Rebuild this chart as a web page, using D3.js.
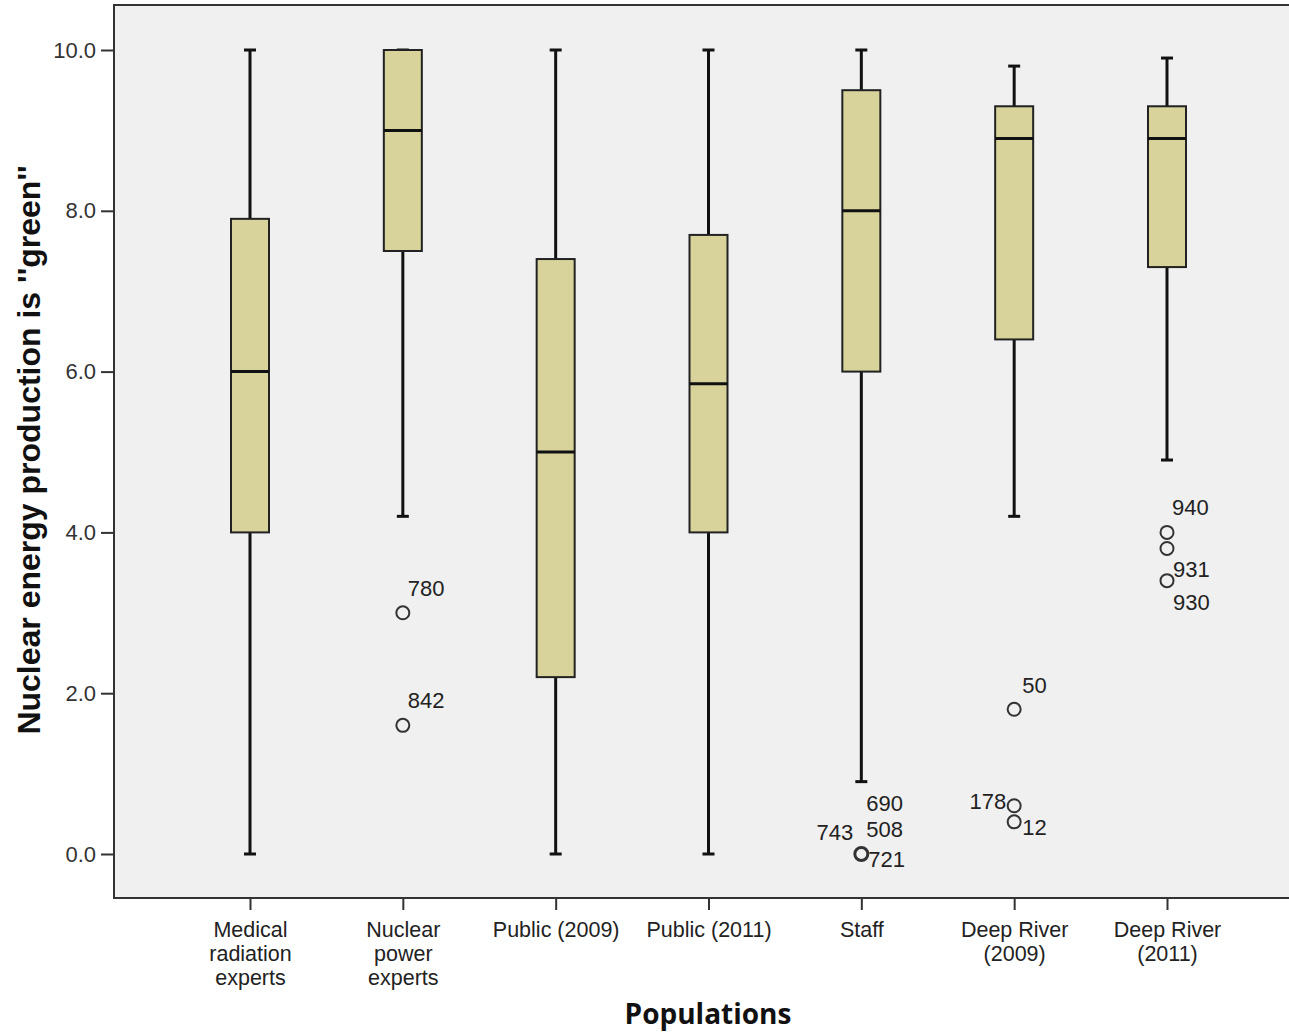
<!DOCTYPE html>
<html><head><meta charset="utf-8">
<script src="https://cdn.jsdelivr.net/npm/d3@7"></script>
<style>body{margin:0;background:#fff}svg{display:block}</style>
</head><body>
<svg id="c" width="1289" height="1034"></svg>
<script>
const categories = ["Medical\nradiation\nexperts","Nuclear\npower\nexperts","Public (2009)","Public (2011)","Staff","Deep River\n(2009)","Deep River\n(2011)"];
const whiskerLow  = [0.0, 4.2, 0.0, 0.0, 0.9, 4.2, 4.9];
const q1          = [4.0, 7.5, 2.2, 4.0, 6.0, 6.4, 7.3];
const median      = [6.0, 9.0, 5.0, 5.85, 8.0, 8.9, 8.9];
const q3          = [7.9, 10.0, 7.4, 7.7, 9.5, 9.3, 9.3];
const whiskerHigh = [10.0, 10.0, 10.0, 10.0, 10.0, 9.8, 9.9];
const outlierCat   = [1, 1, 4, 5, 5, 5, 6, 6, 6];
const outlierValue = [3.0, 1.6, 0.0, 1.8, 0.6, 0.4, 4.0, 3.8, 3.4];
const outlierLabels = [["780"],["842"],["690","508","743","721"],["50"],["178"],["12"],["940"],[],["931","930"]];
const yTicks = [0, 2, 4, 6, 8, 10];

// label placement (layout only): dx, dy, anchor per label relative to its point
const labelLayout = [
  [[5,-17,"start"]],[[5,-17,"start"]],
  [[5,-43,"start"],[5,-17,"start"],[-8,-14,"end"],[7,13,"start"]],
  [[8,-16,"start"]],[[-8,3,"end"]],[[8,13,"start"]],
  [[5,-17,"start"]],[],[[6,-4,"start"],[6,29,"start"]]
];

const FONT = "Liberation Sans, Arial, sans-serif";
const svg = d3.select("#c");
const frame = {left:114, top:5, right:1300, bottom:898};
const y = d3.scaleLinear().domain([0,10]).range([854,50]);
const x = d3.scalePoint().domain(categories).range([250,1167]);

svg.append("rect").attr("x",frame.left).attr("y",frame.top)
  .attr("width",frame.right-frame.left).attr("height",frame.bottom-frame.top)
  .attr("fill","#f0f0f0").attr("stroke","#333").attr("stroke-width",2);

// y axis
const ya = svg.append("g").attr("transform",`translate(${frame.left},0)`)
  .call(d3.axisLeft(y).tickValues(yTicks).tickFormat(d3.format(".1f")).tickSize(13).tickPadding(5));
ya.select(".domain").remove();
ya.selectAll(".tick line").attr("stroke","#333").attr("stroke-width",2);
ya.selectAll(".tick text").attr("font-family",FONT).attr("font-size",22).attr("fill","#333");

// x axis
const xa = svg.append("g").attr("transform",`translate(0,${frame.bottom})`)
  .call(d3.axisBottom(x).tickSize(12).tickFormat(""));
xa.select(".domain").remove();
xa.selectAll(".tick line").attr("stroke","#333").attr("stroke-width",2);
xa.selectAll(".tick").each(function(d){
  const t = d3.select(this).append("text").attr("text-anchor","middle")
    .attr("font-family",FONT).attr("font-size",21.5).attr("fill","#222");
  d.split("\n").forEach((line,i)=>t.append("tspan").attr("x",0).attr("y",39+i*24).text(line));
});

const bw = 38, cap = 12;
const g = svg.append("g");
categories.forEach((c,i)=>{
  const cx = x(c);
  g.append("line").attr("x1",cx).attr("x2",cx).attr("y1",y(whiskerLow[i])).attr("y2",y(q1[i])).attr("stroke","#111").attr("stroke-width",3);
  g.append("line").attr("x1",cx).attr("x2",cx).attr("y1",y(q3[i])).attr("y2",y(whiskerHigh[i])).attr("stroke","#111").attr("stroke-width",3);
  g.append("line").attr("x1",cx-cap/2).attr("x2",cx+cap/2).attr("y1",y(whiskerLow[i])).attr("y2",y(whiskerLow[i])).attr("stroke","#111").attr("stroke-width",3);
  g.append("line").attr("x1",cx-cap/2).attr("x2",cx+cap/2).attr("y1",y(whiskerHigh[i])).attr("y2",y(whiskerHigh[i])).attr("stroke","#111").attr("stroke-width",3);
  g.append("rect").attr("x",cx-bw/2).attr("width",bw).attr("y",y(q3[i])).attr("height",y(q1[i])-y(q3[i]))
    .attr("fill","#d7d39b").attr("stroke","#222").attr("stroke-width",2);
  g.append("line").attr("x1",cx-bw/2).attr("x2",cx+bw/2).attr("y1",y(median[i])).attr("y2",y(median[i])).attr("stroke","#111").attr("stroke-width",3);
});

outlierValue.forEach((v,k)=>{
  const cx = x(categories[outlierCat[k]]), cy = y(v);
  const bold = outlierLabels[k].length>1 && outlierCat[k]===4;
  g.append("circle").attr("cx",cx).attr("cy",cy).attr("r",6.5).attr("fill","none")
    .attr("stroke","#333").attr("stroke-width",bold?3:2);
  outlierLabels[k].forEach((lab,j)=>{
    const [dx,dy,anc] = labelLayout[k][j];
    g.append("text").attr("x",cx+dx).attr("y",cy+dy).attr("text-anchor",anc)
      .attr("font-family",FONT).attr("font-size",22).attr("fill","#222").text(lab);
  });
});

svg.append("text").attr("transform","translate(40,450) rotate(-90)").attr("text-anchor","middle")
  .attr("font-family",FONT).attr("font-weight","bold").attr("font-size",32).attr("fill","#111")
  .text("Nuclear energy production is ''green''");
svg.append("text").attr("x",708).attr("y",1024).attr("text-anchor","middle")
  .attr("font-family","Open Sans, Lato, sans-serif").attr("font-weight","bold").attr("font-size",28).attr("fill","#111")
  .text("Populations");
</script>
</body></html>
